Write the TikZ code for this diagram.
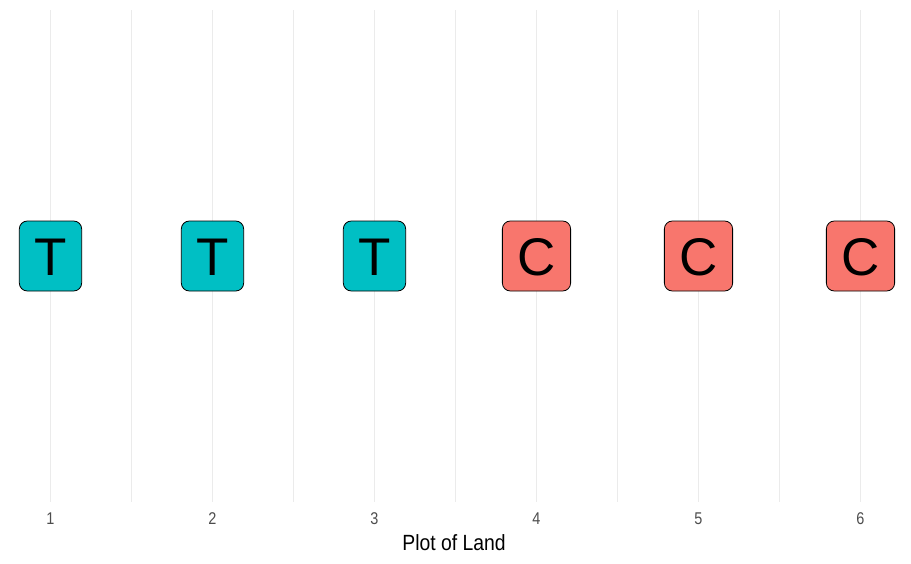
\documentclass[tikz,border=0pt]{standalone}
\usepackage{fontspec}
\setmainfont{Liberation Sans}
\definecolor{teal}{HTML}{00BFC4}
\definecolor{salmon}{HTML}{F8766D}
\definecolor{grid}{HTML}{EBEBEB}
\definecolor{ticktext}{HTML}{4D4D4D}
\begin{document}
\begin{tikzpicture}[x=1pt,y=1pt,
  plotbox/.style={draw=black, line width=0.8pt, rounded corners=8pt,
    font=\fontsize{53}{54}\selectfont, text height=38pt, text depth=0pt,
    inner ysep=16pt, inner xsep=15pt},
  treat/.style={plotbox, fill=teal},
  ctrl/.style={plotbox, fill=salmon},
  majorgrid/.style={draw=grid, line width=1pt},
  minorgrid/.style={draw=grid, line width=0.6pt},
  ticklab/.style={text=ticktext, font=\fontsize{17}{18}\selectfont, inner sep=0pt},
  axtitle/.style={text=black, font=\fontsize{22}{23}\selectfont, inner sep=0pt}]
\useasboundingbox (0,0) rectangle (911,-563);
\fill[white] (0,0) rectangle (911,-563);
\foreach \x in {131,293,455,617,779} {\draw[minorgrid] (\x,-10) -- (\x,-502);}
\foreach \x in {50.5,212.5,374.5,536.5,698.5,860.5} {\draw[majorgrid] (\x,-10) -- (\x,-502);}
\node[treat] (p1) at (50.5,-256) {T};
\node[treat] (p2) at (212.5,-256) {T};
\node[treat] (p3) at (374.5,-256) {T};
\node[ctrl] (p4) at (536.5,-256) {C};
\node[ctrl] (p5) at (698.5,-256) {C};
\node[ctrl] (p6) at (860.5,-256) {C};
\node[ticklab] (t1) at (50.5,-519) {\scalebox{0.85}[1]{1}};
\node[ticklab] (t2) at (212.5,-519) {\scalebox{0.85}[1]{2}};
\node[ticklab] (t3) at (374.5,-519) {\scalebox{0.85}[1]{3}};
\node[ticklab] (t4) at (536.5,-519) {\scalebox{0.85}[1]{4}};
\node[ticklab] (t5) at (698.5,-519) {\scalebox{0.85}[1]{5}};
\node[ticklab] (t6) at (860.5,-519) {\scalebox{0.85}[1]{6}};
\node[axtitle] (title) at (454,-543) {\scalebox{0.88}[1]{Plot of Land}};
\end{tikzpicture}
\end{document}
